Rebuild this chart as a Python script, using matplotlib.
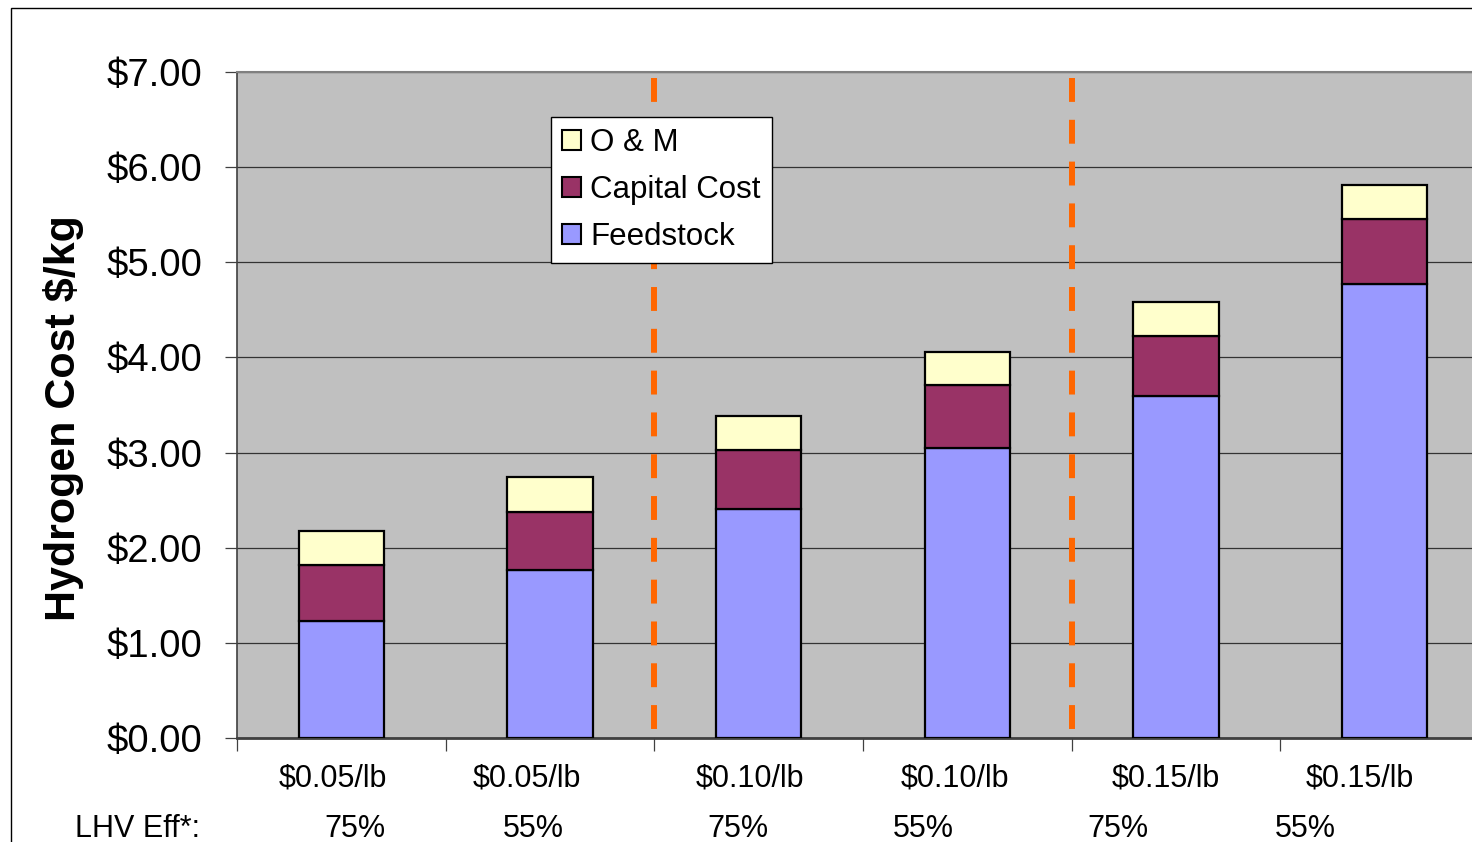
import matplotlib
matplotlib.use("Agg")
import matplotlib.pyplot as plt
from matplotlib.patches import Patch, Rectangle
import numpy as np

plt.rcParams['font.family'] = ['Liberation Sans', 'DejaVu Sans']

# Hydrogen cost breakdown ($/kg) by feedstock price and LHV efficiency
price_labels = ["$0.05/lb", "$0.05/lb", "$0.10/lb", "$0.10/lb", "$0.15/lb", "$0.15/lb"]
efficiency_labels = ["75%", "55%", "75%", "55%", "75%", "55%"]
feedstock = [1.23, 1.77, 2.41, 3.05, 3.59, 4.77]
capital = [0.59, 0.61, 0.62, 0.66, 0.64, 0.69]
om = [0.36, 0.36, 0.35, 0.35, 0.35, 0.35]
yticks = [0, 1, 2, 3, 4, 5, 6, 7]

# Label placement (category-unit offsets from each bar centre)
price_label_shift = [-0.04, -0.11, -0.04, -0.06, -0.05, -0.12]
eff_label_shift = [0.065, -0.08, -0.10, -0.21, -0.28, -0.38]

c_feed = "#9999FF"
c_cap = "#993366"
c_om = "#FFFFCC"

W, H = 1472, 842
fig = plt.figure(figsize=(W / 100, H / 100), dpi=100)
fig.patch.set_facecolor("white")

# plot area (extends a little past the right edge of the figure)
left_px, right_px, top_px, bottom_px = 237, 1489, 72, 738
ax = fig.add_axes([left_px / W, 1 - bottom_px / H,
                   (right_px - left_px) / W, (bottom_px - top_px) / H])
ax.set_facecolor("#C0C0C0")

x = np.arange(len(price_labels))
feed = np.array(feedstock)
cap = np.array(capital)
o_m = np.array(om)
bw = 0.41
edge = dict(edgecolor="black", linewidth=1.6, zorder=3)
ax.bar(x, feed, bw, color=c_feed, **edge)
ax.bar(x, cap, bw, bottom=feed, color=c_cap, **edge)
ax.bar(x, o_m, bw, bottom=feed + cap, color=c_om, **edge)

ax.set_xlim(-0.5, len(x) - 0.5)
ax.set_ylim(0, 7)
ax.set_yticks(yticks)
ax.set_yticklabels([f"${v:.2f}" for v in yticks], fontsize=27.5)
ax.yaxis.grid(True, color="#333333", linewidth=0.9, zorder=1)
ax.set_axisbelow(True)

ax.set_xticks(np.arange(len(x) + 1) - 0.5)
ax.set_xticklabels([])
ax.tick_params(axis="x", length=9, width=0.9, color="#404040", direction="out")
ax.tick_params(axis="y", length=9, width=0.9, color="#404040", direction="out", pad=16)

for s in ["left", "bottom"]:
    ax.spines[s].set_color("#404040")
ax.spines["left"].set_linewidth(1.2)
ax.spines["bottom"].set_linewidth(2.0)
ax.spines["top"].set_color("#808080")
ax.spines["top"].set_linewidth(1.5)
ax.spines["right"].set_visible(False)

# orange dashed separators between price groups
for xb in [1.5, 3.5]:
    ax.plot([xb, xb], [6.937, 0.063], color="#FF6600", linewidth=4.3,
            linestyle=(0, (24 / 6, 18 / 6)), solid_capstyle="butt",
            dash_capstyle="butt", zorder=4)

trans = ax.get_xaxis_transform()
for i, lab in enumerate(price_labels):
    ax.text(x[i] + price_label_shift[i], -0.061, lab, transform=trans,
            ha="center", va="center", fontsize=22)
for i, lab in enumerate(efficiency_labels):
    ax.text(x[i] + eff_label_shift[i], -0.137, lab, transform=trans,
            ha="center", va="center", fontsize=22)
ax.text(-0.976, -0.137, "LHV Eff*:", transform=trans,
        ha="center", va="center", fontsize=22)

fig.text(63 / W, 1 - 418 / H, "Hydrogen Cost $/kg", rotation=90,
         ha="center", va="center", fontsize=31, fontweight="bold")

handles = [Patch(facecolor=c_om, edgecolor="black", linewidth=1.5, label="O & M"),
           Patch(facecolor=c_cap, edgecolor="black", linewidth=1.5, label="Capital Cost"),
           Patch(facecolor=c_feed, edgecolor="black", linewidth=1.5, label="Feedstock")]
leg = fig.legend(handles=handles, loc="upper left",
                 bbox_to_anchor=(551 / W, 1 - 117 / H),
                 fontsize=22.5, frameon=True, fancybox=False, framealpha=1,
                 edgecolor="black", borderaxespad=0, borderpad=0.35,
                 handlelength=0.6, handleheight=0.6, handletextpad=0.3,
                 labelspacing=0.55)
leg.get_frame().set_linewidth(1.0)
leg.set_zorder(10)

# outer chart border
fig.patches.append(Rectangle((10.5 / W, -0.1), 1.2, 1.1 - 7.5 / H,
                             transform=fig.transFigure, fill=False,
                             edgecolor="black", linewidth=1.0))

fig.savefig("out.png", dpi=100)
